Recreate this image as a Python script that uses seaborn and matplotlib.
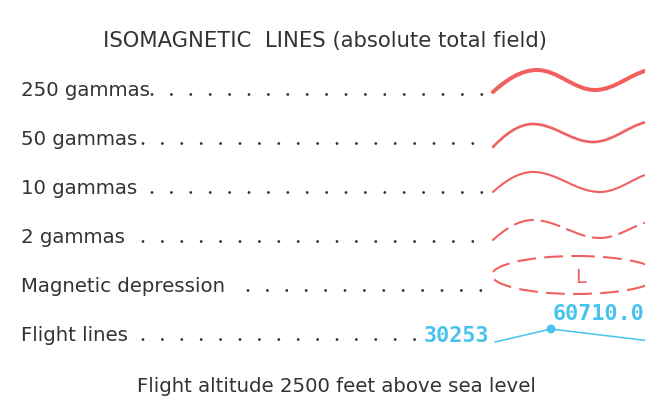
import numpy as np
import matplotlib
matplotlib.use("Agg")
import matplotlib.pyplot as plt
from matplotlib.path import Path
from matplotlib.patches import PathPatch, Ellipse
import seaborn as sns

# legend rows (label, baseline in px from top)
labels = ["250 gammas", "50 gammas", "10 gammas", "2 gammas", "Magnetic depression", "Flight lines"]
baselines = [96, 145, 194, 243, 292, 341]
dot_start = [152, 143, 152, 143, 248, 143]
dot_end = [484, 484, 484, 484, 484, 415]

# isomagnetic waves: start, crest, trough, next crest (x, y in px)
wave_x = [
    [493, 537, 595, 657],
    [493, 533, 593, 655],
    [493, 533, 600, 660],
    [493, 533, 600, 660],
]
wave_y = [
    [92, 70, 90, 69],
    [147, 124, 142, 121],
    [192, 172, 192, 172],
    [240, 220, 238, 220],
]
wave_lw = [2.9, 1.9, 1.5, 1.5]
wave_dashed = [False, False, False, True]

# magnetic depression (closed low)
depr_center = (576, 275)
depr_size = (168, 38)

# flight line
flight_x = [495, 551, 700]
flight_y = [342, 329, 347]
fid_left = "30253"
fid_right = "60710.0"

title = "ISOMAGNETIC  LINES (absolute total field)"
footer = "Flight altitude 2500 feet above sea level"

RED = "#f0605e"
CYAN = "#45c3ec"
INK = "#333333"

sns.set_theme(style="white")
plt.rcParams["font.family"] = ["DejaVu Sans"]

fig = plt.figure(figsize=(6.45, 4.18), dpi=100)
ax = fig.add_axes([0, 0, 1, 1])
ax.set_xlim(0, 645)
ax.set_ylim(418, 0)
ax.axis("off")

ax.text(325, 47, title, ha="center", va="baseline", fontsize=15.2, color=INK)
ax.text(336, 392, footer, ha="center", va="baseline", fontsize=14.2, color=INK)

for lab, yb, x0, x1 in zip(labels, baselines, dot_start, dot_end):
    ax.text(21, yb, lab, ha="left", va="baseline", fontsize=14.2, color=INK)
    xs = np.arange(x0, x1, 19.4)
    sns.scatterplot(x=xs, y=np.full(len(xs), yb - 1.5), ax=ax, s=4, color=INK,
                    edgecolor="none", legend=False)


def wave_path(xs, ys, k=0.36):
    verts = [(xs[0], ys[0])]
    codes = [Path.MOVETO]
    for i in range(3):
        dx = xs[i + 1] - xs[i]
        if i == 0:
            c1 = (xs[0] + 0.3 * dx, ys[0] + 0.55 * (ys[1] - ys[0]))
        else:
            c1 = (xs[i] + k * dx, ys[i])
        c2 = (xs[i + 1] - k * dx, ys[i + 1])
        verts += [c1, c2, (xs[i + 1], ys[i + 1])]
        codes += [Path.CURVE4] * 3
    return Path(verts, codes)


for xs, ys, lw, dashed in zip(wave_x, wave_y, wave_lw, wave_dashed):
    ls = (0, (9, 4)) if dashed else "-"
    ax.add_patch(PathPatch(wave_path(xs, ys), fill=False, edgecolor=RED, lw=lw,
                           linestyle=ls, capstyle="round"))

ax.add_patch(Ellipse(depr_center, depr_size[0], depr_size[1], fill=False,
                     edgecolor=RED, lw=1.5, linestyle=(0, (9, 4))))
ax.text(581, 283, "L", ha="center", va="baseline", fontsize=14, color=RED)

sns.lineplot(x=flight_x, y=flight_y, ax=ax, color=CYAN, lw=1.1, sort=False,
             estimator=None)
sns.scatterplot(x=flight_x[1:2], y=flight_y[1:2], ax=ax, s=40, color=CYAN,
                edgecolor="none", legend=False)
ax.text(424, 342, fid_left, ha="left", va="baseline", fontsize=15.7, color=CYAN,
        fontweight="bold", family="DejaVu Sans Mono")
ax.text(553, 320, fid_right, ha="left", va="baseline", fontsize=15.7, color=CYAN,
        fontweight="bold", family="DejaVu Sans Mono")

fig.savefig("out.png", dpi=100)
